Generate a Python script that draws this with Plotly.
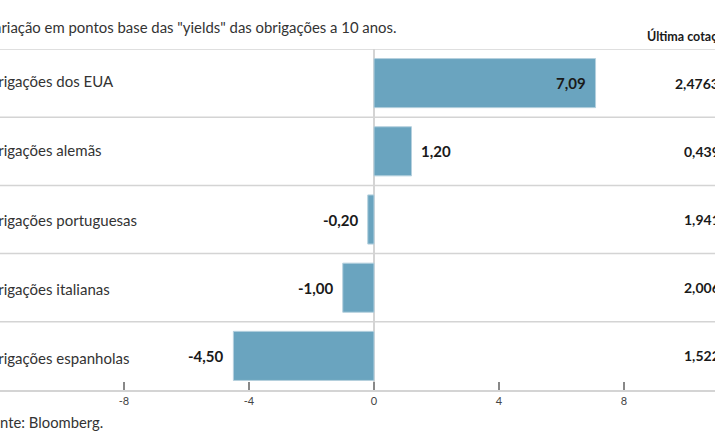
import plotly.graph_objects as go

categories = ["Obrigações dos EUA", "Obrigações alemãs", "Obrigações portuguesas",
              "Obrigações italianas", "Obrigações espanholas"]
variation = [7.09, 1.20, -0.20, -1.00, -4.50]
variation_labels = ["7,09", "1,20", "-0,20", "-1,00", "-4,50"]
last_quote = ["2,4763", "0,439", "1,941", "2,006", "1,522"]
tick_vals = [-8, -4, 0, 4, 8]
tick_text = ["-8", "-4", "0", "4", "8"]

W, H = 715, 445
FONT = "Lato"
BAR = "#6aa4bf"
GRID = "#d4d4d4"

fig = go.Figure()
fig.add_trace(go.Bar(
    x=variation, y=categories, orientation="h",
    marker=dict(color=BAR, line=dict(color="#b5d0de", width=1)),
    width=0.72, hoverinfo="skip",
))

annotations = []
# value labels
for cat, v, lab in zip(categories, variation, variation_labels):
    if v > 5:
        xa, xs = "right", -8
    elif v >= 0:
        xa, xs = "left", 7
    else:
        xa, xs = "right", -7
    annotations.append(dict(x=v, y=cat, xref="x", yref="y", text=f"<b>{lab}</b>",
                            showarrow=False, xanchor=xa, xshift=xs,
                            font=dict(family=FONT, size=15, color="#1a1a1a")))
# category labels (left, partly cut)
for i, cat in enumerate(categories):
    annotations.append(dict(x=-24 / W, y=cat, xref="paper", yref="y", text=cat,
                            showarrow=False, xanchor="left", yshift=2 - i,
                            font=dict(family=FONT, size=15, color="#333333")))
# last quote column
for i, (cat, q) in enumerate(zip(categories, last_quote)):
    xp = 673 if i == 0 else 682
    annotations.append(dict(x=xp / W, y=cat, xref="paper", yref="y", text=f"<b>{q}</b>",
                            showarrow=False, xanchor="left",
                            font=dict(family=FONT, size=14, color="#1a1a1a")))
annotations.append(dict(x=645 / W, y=1, xref="paper", yref="paper", yanchor="bottom",
                        yshift=3, text="<b>Última cotação</b>", showarrow=False,
                        xanchor="left", font=dict(family=FONT, size=12.5, color="#1a1a1a")))

top, bottom = 49, 390
ph = bottom - top
# title and source
annotations.append(dict(x=-17 / W, y=(bottom - 27) / ph, xref="paper", yref="paper", text=
                        'Variação em pontos base das "yields" das obrigações a 10 anos.',
                        showarrow=False, xanchor="left", yanchor="middle",
                        font=dict(family=FONT, size=14.9, color="#333333")))
annotations.append(dict(x=-18 / W, y=0, xref="paper", yref="paper", text="Fonte: Bloomberg.",
                        showarrow=False, xanchor="left", yanchor="top", yshift=-21,
                        font=dict(family=FONT, size=14.8, color="#333333")))

shapes = []
for yb in [-0.5, 0.5, 1.5, 2.5, 3.5]:
    shapes.append(dict(type="line", xref="paper", x0=0, x1=1, yref="y", y0=yb, y1=yb,
                       line=dict(color=GRID, width=1.5), layer="below"))

px_per_unit = 31.25
x0 = -374 / px_per_unit
x1 = (W - 374) / px_per_unit

fig.update_layout(
    width=W, height=H,
    margin=dict(l=0, r=0, t=top, b=H - bottom, pad=0),
    paper_bgcolor="white", plot_bgcolor="white",
    showlegend=False,
    annotations=annotations, shapes=shapes,
    xaxis=dict(range=[x0, x1], tickvals=tick_vals, ticktext=tick_text,
               ticks="inside", ticklen=8, tickcolor="#888888", tickwidth=1.5,
               showline=True, linecolor=GRID, linewidth=1.5,
               showgrid=False, zeroline=True, zerolinecolor=GRID, zerolinewidth=1.5,
               tickfont=dict(family=FONT, size=11, color="#444444"), fixedrange=True),
    yaxis=dict(range=[4.5, -0.5], showticklabels=False, showgrid=False,
               zeroline=False, showline=False, fixedrange=True),
)

fig.write_html("out.html")
